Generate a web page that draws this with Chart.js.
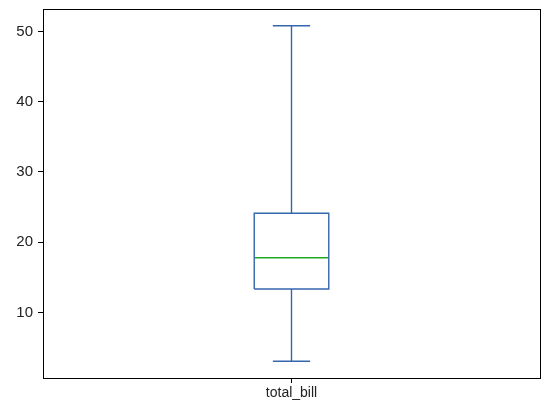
<!DOCTYPE html>
<html>
<head>
<meta charset="utf-8">
<script src="https://cdn.jsdelivr.net/npm/chart.js@4"></script>
<style>
  html, body { margin: 0; padding: 0; background: #fff; }
  #wrap { width: 547px; height: 408px; }
</style>
</head>
<body>
<div id="wrap"><canvas id="chart" width="547" height="408"></canvas></div>
<script>
// box plot stats (tips total_bill)
const categories = ['total_bill'];
const whiskerLow = [3.07];
const q1 = [13.35];
const median = [17.80];
const q3 = [24.13];
const whiskerHigh = [50.81];
const yTicks = [10, 20, 30, 40, 50];

const boxColor = '#3466ae';
const medianColor = '#22a722';
const boxWidth = 0.15;
const capWidth = 0.075;

function boxPoints() {
    let pts = [];
    for (let i = 0; i < categories.length; i++) {
        const x = i + 1;
        const h = boxWidth / 2;
        pts.push({x: x - h, y: q1[i]}, {x: x + h, y: q1[i]}, {x: x + h, y: q3[i]},
                 {x: x - h, y: q3[i]}, {x: x - h, y: q1[i]}, {x: x, y: null});
    }
    return pts;
}

function whiskerPoints() {
    let pts = [];
    for (let i = 0; i < categories.length; i++) {
        const x = i + 1;
        const c = capWidth / 2;
        pts.push({x: x, y: q1[i]}, {x: x, y: whiskerLow[i]}, {x: x, y: null});
        pts.push({x: x, y: q3[i]}, {x: x, y: whiskerHigh[i]}, {x: x, y: null});
        pts.push({x: x - c, y: whiskerLow[i]}, {x: x + c, y: whiskerLow[i]}, {x: x, y: null});
        pts.push({x: x - c, y: whiskerHigh[i]}, {x: x + c, y: whiskerHigh[i]}, {x: x, y: null});
    }
    return pts;
}

function medianPoints() {
    let pts = [];
    for (let i = 0; i < categories.length; i++) {
        const x = i + 1;
        const h = boxWidth / 2;
        pts.push({x: x - h, y: median[i]}, {x: x + h, y: median[i]}, {x: x, y: null});
    }
    return pts;
}

// matplotlib-like 5% margins on y
const lo = Math.min(...whiskerLow), hi = Math.max(...whiskerHigh);
const pad = (hi - lo) * 0.05;

const frame = {
    id: 'frame',
    afterDraw(chart) {
        const a = chart.chartArea, ctx = chart.ctx;
        ctx.save();
        ctx.strokeStyle = '#000';
        ctx.lineWidth = 1;
        ctx.strokeRect(Math.round(a.left) + 0.5, Math.round(a.top) + 0.5,
                       Math.round(a.right - a.left), Math.round(a.bottom - a.top));
        ctx.restore();
    }
};

const lineDs = (data, color) => ({
    data: data,
    borderColor: color,
    borderWidth: 1.4,
    showLine: true,
    spanGaps: false,
    pointRadius: 0,
    fill: false
});

new Chart(document.getElementById('chart'), {
    type: 'scatter',
    data: {
        datasets: [
            lineDs(whiskerPoints(), boxColor),
            lineDs(boxPoints(), boxColor),
            lineDs(medianPoints(), medianColor)
        ]
    },
    options: {
        responsive: false,
        animation: false,
        layout: { padding: { top: 9, right: 7, left: 0, bottom: 0 } },
        plugins: { legend: { display: false }, tooltip: { enabled: false } },
        scales: {
            x: {
                type: 'linear',
                min: 0.5,
                max: categories.length + 0.5,
                afterBuildTicks: (axis) => { axis.ticks = categories.map((c, i) => ({value: i + 1})); },
                afterFit: (axis) => { axis.height = 30; axis.paddingLeft = 0; axis.paddingRight = 0; },
                grid: { display: true, drawOnChartArea: false, drawTicks: true, tickLength: 5, color: '#000' },
                border: { display: false },
                ticks: {
                    color: '#222',
                    font: { family: 'Liberation Sans', size: 14 },
                    padding: 2,
                    maxRotation: 0,
                    callback: (v) => categories[Math.round(v) - 1]
                }
            },
            y: {
                type: 'linear',
                min: lo - pad,
                max: hi + pad,
                afterBuildTicks: (axis) => { axis.ticks = yTicks.map(v => ({value: v})); },
                afterFit: (axis) => { axis.width = 43; axis.paddingTop = 0; axis.paddingBottom = 0; },
                grid: { display: true, drawOnChartArea: false, drawTicks: true, tickLength: 5, color: '#000' },
                border: { display: false },
                ticks: {
                    color: '#222',
                    font: { family: 'Liberation Sans', size: 15 },
                    padding: 5
                }
            }
        }
    },
    plugins: [frame]
});
</script>
</body>
</html>
